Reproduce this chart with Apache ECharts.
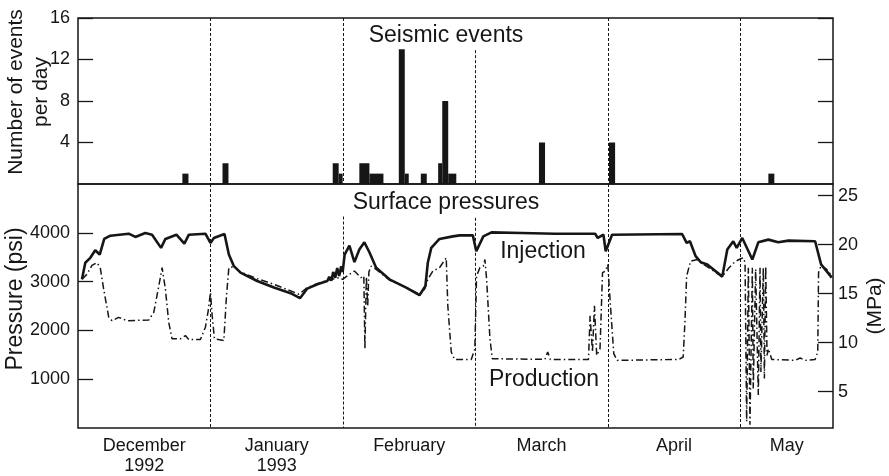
<!DOCTYPE html>
<html><head><meta charset="utf-8">
<script src="https://cdn.jsdelivr.net/npm/echarts@6/dist/echarts.min.js"></script>
<style>html,body{margin:0;padding:0;background:#fff}#c{width:889px;height:476px}</style>
</head><body><div id="c"></div>
<script>
// x values are in "months since 1 December 1992" (each month drawn with equal width, as in the source figure)
const monthLabels = ['December\n1992', 'January\n1993', 'February', 'March', 'April', 'May'];
const monthLabelPos = [0.5, 1.5, 2.5, 3.5, 4.5, 5.35];
const monthBoundaries = [1, 2, 3, 4, 5];

// seismic events: [start, end, events per day]
const eventBars = [
  [0.788, 0.834, 1], [1.091, 1.136, 2], [1.923, 1.968, 2], [1.968, 1.998, 1],
  [2.124, 2.200, 2], [2.200, 2.306, 1], [2.422, 2.467, 13], [2.467, 2.497, 1],
  [2.588, 2.633, 1], [2.719, 2.750, 2], [2.750, 2.795, 8], [2.795, 2.856, 1],
  [3.480, 3.526, 4], [4.009, 4.055, 4], [5.212, 5.257, 1]
];
const eventTicks = [4, 8, 12, 16];
const psiTicks = [1000, 2000, 3000, 4000];
const mpaTicks = [5, 10, 15, 20, 25];

// injection surface pressure (psi)
const injection = [
  [0.030,3050],[0.055,3390],[0.093,3491],[0.130,3646],[0.164,3558],[0.198,3878],[0.244,3945],
  [0.383,3986],[0.433,3919],[0.508,4000],[0.559,3965],[0.627,3695],[0.660,3878],[0.743,3965],
  [0.803,3782],[0.837,3965],[0.962,3986],[1.000,3797],[1.026,3898],[1.106,3980],[1.139,3558],
  [1.177,3320],[1.227,3186],[1.353,3015],[1.479,2881],[1.605,2765],[1.676,2663],[1.731,2860],
  [1.807,2948],[1.882,3015],[1.897,3100],[1.912,3020],[1.927,3200],[1.942,3080],[1.957,3280],
  [1.972,3120],[1.987,3320],[1.998,3200],[2.013,3558],[2.049,3742],[2.087,3402],[2.124,3660],
  [2.162,3809],[2.200,3605],[2.251,3288],[2.351,3050],[2.478,2881],[2.578,2724],[2.623,2914],
  [2.641,3390],[2.667,3695],[2.729,3878],[2.830,3931],[2.881,3951],[2.981,3951],[3.007,3626],
  [3.060,3931],[3.122,4012],[3.349,4000],[3.601,3986],[3.904,3986],[3.924,3898],[3.967,3965],
  [3.984,3626],[4.032,3965],[4.561,3980],[4.595,3797],[4.620,3830],[4.663,3524],[4.701,3402],
  [4.751,3355],[4.864,3105],[4.902,3660],[4.947,3830],[4.973,3695],[5.015,3898],[5.091,3457],
  [5.136,3809],[5.212,3864],[5.287,3809],[5.363,3843],[5.565,3830],[5.610,3355],[5.691,3084]
];

// production surface pressure (psi)
const production = [
  [0.030,3050],[0.067,3151],[0.105,3335],[0.143,3390],[0.168,3288],[0.194,2846],[0.232,2270],
  [0.257,2201],[0.307,2270],[0.370,2201],[0.534,2215],[0.572,2372],[0.610,2913],[0.635,3288],
  [0.660,2846],[0.685,2168],[0.710,1829],[0.773,1829],[0.811,1896],[0.837,1814],[0.924,1814],
  [0.962,2067],[0.983,2405],[1.000,2779],[1.013,2303],[1.030,1829],[1.101,1794],[1.121,2710],
  [1.139,3288],[1.177,3308],[1.227,3200],[1.353,3064],[1.479,2948],[1.668,2744],[1.731,2880],
  [1.807,2960],[1.882,3030],[1.971,3084],[1.998,3050],[2.049,3151],[2.087,3219],[2.137,3084],
  [2.158,3118],[2.166,1625],[2.177,3100],[2.187,2500],[2.196,3200],[2.213,3320],[2.251,3253],
  [2.351,3036],[2.478,2881],[2.578,2744],[2.616,2846],[2.641,3050],[2.679,3219],[2.729,3288],
  [2.780,3491],[2.792,2506],[2.818,1558],[2.843,1407],[2.969,1407],[2.996,1625],[3.009,3118],
  [3.034,3288],[3.060,3321],[3.072,3457],[3.085,3050],[3.110,1829],[3.128,1421],[3.525,1407],
  [3.546,1558],[3.566,1407],[3.854,1407],[3.866,2303],[3.884,1558],[3.899,2506],[3.916,1489],
  [3.941,1625],[3.960,3186],[3.982,3219],[4.000,3355],[4.020,2506],[4.045,1524],[4.070,1387],
  [4.536,1407],[4.569,1456],[4.582,2168],[4.595,3118],[4.625,3422],[4.675,3457],[4.725,3355],
  [4.864,3105],[4.915,3288],[4.965,3422],[5.003,3471],[5.023,3491],[5.036,3390],[5.048,133],
  [5.061,3288],[5.073,65],[5.091,3288],[5.098,811],[5.116,3260],[5.136,675],[5.149,3288],
  [5.156,1151],[5.174,3288],[5.182,1015],[5.192,3321],[5.202,1489],[5.212,1625],[5.238,1407],
  [5.414,1387],[5.452,1436],[5.490,1387],[5.565,1407],[5.585,1558],[5.591,3186],[5.610,3335],
  [5.653,3253],[5.691,3118]
];

// where the dashed month separators start (they stop under the panel titles)
const sepTopEvents = [16, 16, 12.9, 16, 16];
const sepTopPsi = [5005, 4338, 4311, 5005, 5005];

const FONT = '"Liberation Sans", Arial, Helvetica, sans-serif';
const INK = '#161616';

function renderBar(params, api) {
  const s = api.coord([api.value(0), api.value(2)]);
  const e = api.coord([api.value(1), 0]);
  return { type: 'rect', shape: { x: s[0], y: s[1], width: e[0] - s[0], height: e[1] - s[1] },
           style: { fill: INK } };
}
function renderSep(params, api) {
  const p0 = api.coord([api.value(0), api.value(1)]);
  const p1 = api.coord([api.value(0), 0]);
  const x = Math.round(p0[0]) + 0.5;
  return { type: 'line', shape: { x1: x, y1: p0[1], x2: x, y2: p1[1] },
           style: { stroke: INK, lineWidth: 1, lineDash: [3, 2] } };
}
const plain = function (v) { return String(v); };

const chart = echarts.init(document.getElementById('c'), null, { renderer: 'canvas' });
const tickStyle = { show: true, inside: true, length: 15, lineStyle: { color: INK, width: 1.3 } };
const labelStyle = { color: INK, fontSize: 18, fontFamily: FONT };

chart.setOption({
  animation: false,
  backgroundColor: '#fff',
  grid: [
    { left: 78, right: 56, top: 18, height: 166, show: true, borderColor: INK, borderWidth: 1.5, backgroundColor: 'transparent' },
    { left: 78, right: 56, top: 184, bottom: 46, show: true, borderColor: INK, borderWidth: 1.5, backgroundColor: 'transparent' }
  ],
  xAxis: [
    { type: 'value', gridIndex: 0, min: 0, max: 5.7, axisLine: { show: false }, axisTick: { show: false },
      axisLabel: { show: false }, splitLine: { show: false } },
    { type: 'value', gridIndex: 1, min: 0, max: 5.7, axisLine: { show: false }, axisTick: { show: false },
      splitLine: { show: false },
      axisLabel: Object.assign({}, labelStyle, { customValues: monthLabelPos, margin: 8, lineHeight: 20,
        formatter: function (v) {
          for (let i = 0; i < monthLabelPos.length; i++) if (Math.abs(monthLabelPos[i] - v) < 1e-6) return monthLabels[i];
          return '';
        } }) }
  ],
  yAxis: [
    { type: 'value', gridIndex: 0, position: 'left', min: 0, max: 16, interval: 4,
      axisLine: { show: false }, splitLine: { show: false },
      axisTick: Object.assign({}, tickStyle, { customValues: eventTicks }),
      axisLabel: Object.assign({}, labelStyle, { customValues: eventTicks, margin: 8, formatter: plain }) },
    { type: 'value', gridIndex: 0, position: 'right', min: 0, max: 16, interval: 4,
      axisLine: { show: false }, splitLine: { show: false },
      axisTick: Object.assign({}, tickStyle, { customValues: eventTicks }),
      axisLabel: { show: false } },
    { type: 'value', gridIndex: 1, position: 'left', min: 0, max: 5005,
      axisLine: { show: false }, splitLine: { show: false },
      axisTick: Object.assign({}, tickStyle, { customValues: psiTicks }),
      axisLabel: Object.assign({}, labelStyle, { customValues: psiTicks, margin: 8, formatter: plain }) },
    { type: 'value', gridIndex: 1, position: 'right', min: 1.29, max: 26.18,
      axisLine: { show: false }, splitLine: { show: false },
      axisTick: Object.assign({}, tickStyle, { customValues: mpaTicks }),
      axisLabel: Object.assign({}, labelStyle, { customValues: mpaTicks, margin: 5, formatter: plain }) }
  ],
  series: [
    { type: 'custom', xAxisIndex: 0, yAxisIndex: 0, renderItem: renderSep, silent: true,
      data: monthBoundaries.map((m, i) => [m, sepTopEvents[i]]), encode: { x: 0, y: 1 }, z: 1 },
    { type: 'custom', xAxisIndex: 1, yAxisIndex: 2, renderItem: renderSep, silent: true,
      data: monthBoundaries.map((m, i) => [m, sepTopPsi[i]]), encode: { x: 0, y: 1 }, z: 1 },
    { type: 'custom', name: 'Seismic events', xAxisIndex: 0, yAxisIndex: 0, renderItem: renderBar,
      data: eventBars, encode: { x: [0, 1], y: 2 }, z: 2 },
    { type: 'line', name: 'Production', xAxisIndex: 1, yAxisIndex: 2, data: production, showSymbol: false,
      symbol: 'none', lineStyle: { color: INK, width: 1.5, type: [7, 3, 1.5, 3] }, z: 3 },
    { type: 'line', name: 'Injection', xAxisIndex: 1, yAxisIndex: 2, data: injection, showSymbol: false,
      symbol: 'none', lineStyle: { color: INK, width: 2.6 }, z: 4 }
  ],
  graphic: [
    { type: 'text', x: 446, y: 36, style: { text: 'Seismic events', font: '23px ' + FONT, fill: INK, align: 'center', verticalAlign: 'middle' } },
    { type: 'text', x: 446, y: 203, style: { text: 'Surface pressures', font: '23px ' + FONT, fill: INK, align: 'center', verticalAlign: 'middle' } },
    { type: 'text', x: 543, y: 252, style: { text: 'Injection', font: '23px ' + FONT, fill: INK, align: 'center', verticalAlign: 'middle' } },
    { type: 'text', x: 544, y: 380, style: { text: 'Production', font: '23px ' + FONT, fill: INK, align: 'center', verticalAlign: 'middle' } },
    { type: 'text', x: 29, y: 92, rotation: Math.PI / 2, style: { text: 'Number of events\nper day', font: '21px ' + FONT, lineHeight: 25, fill: INK, align: 'center', verticalAlign: 'middle' } },
    { type: 'text', x: 16, y: 299, rotation: Math.PI / 2, style: { text: 'Pressure (psi)', font: '23px ' + FONT, fill: INK, align: 'center', verticalAlign: 'middle' } },
    { type: 'text', x: 875, y: 306, rotation: Math.PI / 2, style: { text: '(MPa)', font: '21px ' + FONT, fill: INK, align: 'center', verticalAlign: 'middle' } }
  ]
});
</script></body></html>
